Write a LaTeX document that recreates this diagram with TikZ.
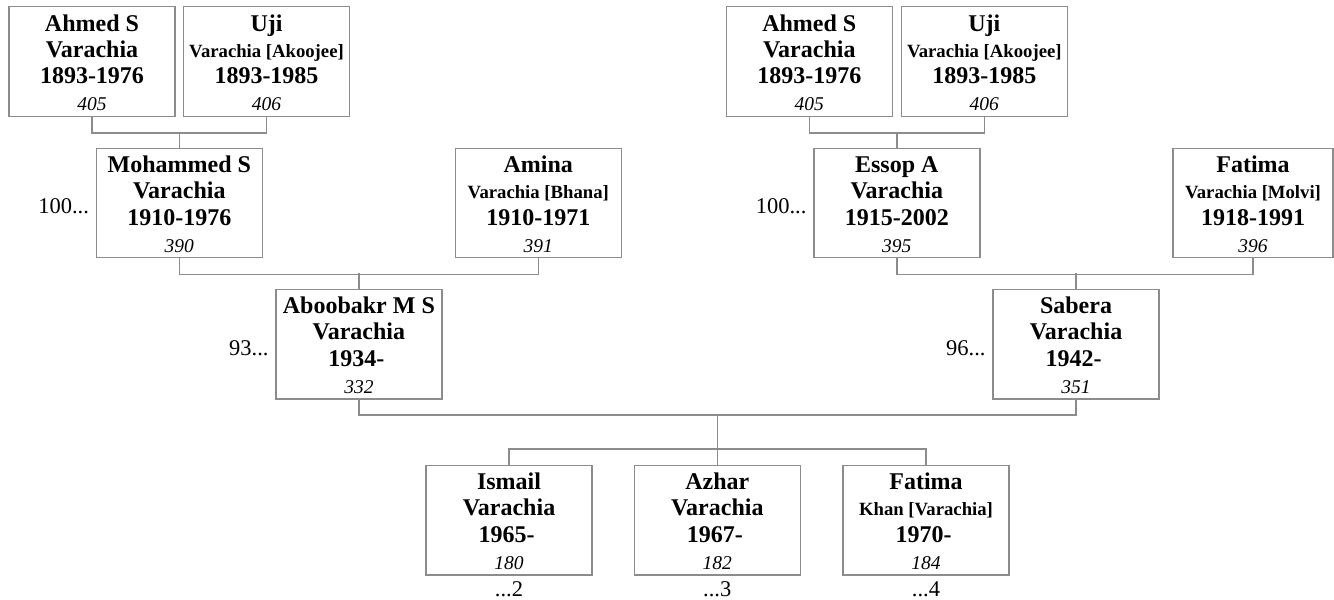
\documentclass[tikz,border=0pt]{standalone}
\usepackage{fontspec}
\setmainfont{Liberation Serif}
\definecolor{boxgray}{RGB}{140,140,140}
\newcommand\subn[1]{{\fontsize{18.7}{22}\selectfont #1}}
\newcommand\famnode[8]{%
  \node[pbox, minimum width=#4pt] (#1) at (#2,#3) {};
  \node[nm] (#1-1) at ([yshift=-25pt]#1.north) {#5};
  \node[nm] (#1-2) at ([yshift=-51pt]#1.north) {#6};
  \node[nm] (#1-3) at ([yshift=-77.5pt]#1.north) {#7};
  \node[num] (#1-4) at ([yshift=-104.5pt]#1.north) {#8};
}
\tikzset{
  pbox/.style={draw=boxgray, line width=1.4pt, minimum height=109.5pt, inner sep=0pt, fill=white},
  nm/.style={anchor=base, inner sep=0pt, font=\fontsize{24}{28}\selectfont\bfseries},
  num/.style={anchor=base, inner sep=0pt, font=\fontsize{19.5}{22}\selectfont\itshape},
  side/.style={inner sep=0pt, font=\fontsize{22.5}{26}\selectfont},
  conn/.style={draw=boxgray, line width=1.4pt}
}
\begin{document}
\begin{tikzpicture}[x=1pt,y=-1pt]
\useasboundingbox[fill=white] (0,0) rectangle (1334,600);
% left side
\famnode{ahmedL}{92}{61.5}{166}{Ahmed S}{Varachia}{1893-1976}{405}
\famnode{ujiL}{266.5}{61.5}{166}{Uji}{\subn{Varachia [Akoojee]}}{1893-1985}{406}
\famnode{mohammed}{179.3}{203}{166}{Mohammed S}{Varachia}{1910-1976}{390}
\famnode{amina}{538.3}{203}{166}{Amina}{\subn{Varachia [Bhana]}}{1910-1971}{391}
\famnode{aboobakr}{358.9}{344.3}{166}{Aboobakr M S}{Varachia}{1934-\kern5pt}{332}
% right side
\famnode{ahmedR}{809.3}{61.5}{166}{Ahmed S}{Varachia}{1893-1976}{405}
\famnode{ujiR}{984.3}{61.5}{166}{Uji}{\subn{Varachia [Akoojee]}}{1893-1985}{406}
\famnode{essop}{896.8}{203}{166}{Essop A}{Varachia}{1915-2002}{395}
\famnode{fatimaR}{1253}{203}{160}{Fatima}{\subn{Varachia [Molvi]}}{1918-1991}{396}
\famnode{sabera}{1076}{344.3}{166}{Sabera}{Varachia}{1942-\kern5pt}{351}
% children
\famnode{ismail}{509}{520.3}{166}{Ismail}{Varachia}{1965-\kern5pt}{180}
\famnode{azhar}{717.3}{520.3}{166}{Azhar}{Varachia}{1967-\kern5pt}{182}
\famnode{fatimaC}{926}{520.3}{166}{Fatima}{\subn{Khan [Varachia]}}{1970-\kern5pt}{184}
% connectors
\draw[conn] (ahmedL.south) -- ++(0,16) -| (ujiL.south);
\draw[conn] (mohammed.north) -- ++(0,-15.8);
\draw[conn] (mohammed.south) -- ++(0,16) -| (amina.south);
\draw[conn] (aboobakr.north) -- ++(0,-15.8);
\draw[conn] (ahmedR.south) -- ++(0,16) -| (ujiR.south);
\draw[conn] (essop.north) -- ++(0,-15.8);
\draw[conn] (essop.south) -- ++(0,16) -| (fatimaR.south);
\draw[conn] (sabera.north) -- ++(0,-15.8);
\draw[conn] (aboobakr.south) -- ++(0,15.3) -| (sabera.south);
\draw[conn] (azhar.north) -- ++(0,-51);
\draw[conn] (ismail.north) -- ++(0,-15.7) -| (fatimaC.north);
% side labels
\node[side, anchor=base east] (lm) at ([xshift=-6.5pt,yshift=-10.5pt]mohammed.west) {100...};
\node[side, anchor=base east] (la) at ([xshift=-6.5pt,yshift=-11pt]aboobakr.west) {93...};
\node[side, anchor=base east] (le) at ([xshift=-6.5pt,yshift=-10.5pt]essop.west) {100...};
\node[side, anchor=base east] (ls) at ([xshift=-6.5pt,yshift=-11pt]sabera.west) {96...};
\node[side, anchor=base] (li) at ([yshift=-21pt]ismail.south) {...2};
\node[side, anchor=base] (lz) at ([yshift=-21pt]azhar.south) {...3};
\node[side, anchor=base] (lf) at ([yshift=-21pt]fatimaC.south) {...4};
\end{tikzpicture}
\end{document}
